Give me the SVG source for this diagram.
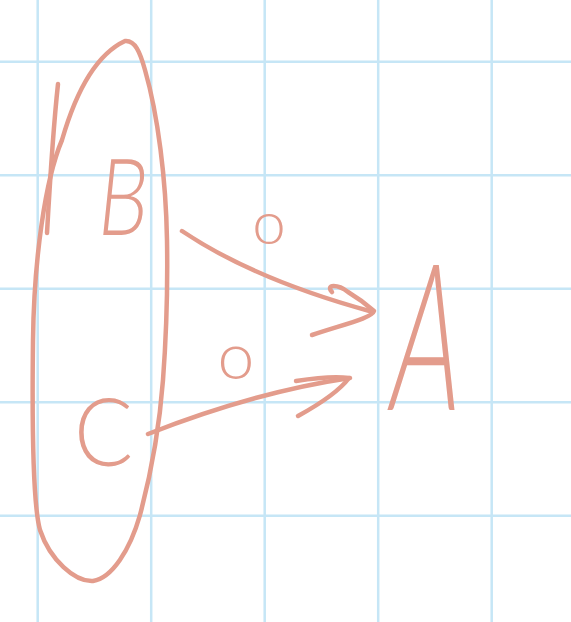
<svg xmlns="http://www.w3.org/2000/svg" width="571" height="622" viewBox="0 0 571 622">
<defs>
<style>
.ink{fill:none;stroke:#e39c8c;stroke-width:4.5;stroke-linecap:round;stroke-linejoin:round}
.lbl{fill:#e39c8c}
</style>
</defs>
<rect x="0" y="0" width="571" height="622" fill="#ffffff"/>
<g id="grid" stroke="#c6e6f6" stroke-width="2.5" fill="none">
<path d="M37.7 0 V622 M151.2 0 V622 M264.7 0 V622 M378.2 0 V622 M491.7 0 V622"/>
<path d="M0 61.7 H571 M0 175.2 H571 M0 288.7 H571 M0 402.2 H571 M0 515.7 H571"/>
</g>
<g id="group-loop">
<path class="ink" d="M125 41 C135 40 140 52 145 70 C158 115 166 180 167 240 C168 300 166 340 163 380 C160 420 152 470 140 515 C130 550 112 578 93 581 C75 582 50 560 40 530 C33 505 32 420 33 340 C34 260 45 180 62 140 C75 95 95 55 125 41 Z"/>
<path class="ink" d="M58 84 C53 130 50 180 47 233"/>
</g>
<g id="node-B">
<text class="lbl" x="0" y="0" font-size="107" font-family="Lato, Roboto, Liberation Sans, sans-serif" font-weight="300" transform="translate(95,235) skewX(-6) scale(0.74,1)">B</text>
</g>
<g id="node-C">
<text class="lbl" x="0" y="0" font-size="94" font-family="Lato, Roboto, Liberation Sans, sans-serif" font-weight="300" transform="translate(74,466) scale(0.93,1)">C</text>
</g>
<g id="node-A">
<text class="lbl" x="0" y="0" font-size="205" font-family="Lato, Roboto, Liberation Sans, sans-serif" font-weight="300" transform="translate(386,410) skewX(-6) scale(0.52,1)">A</text>
</g>
<g id="label-o1">
<text class="lbl" x="269" y="244" text-anchor="middle" font-size="60" font-family="Lato, Roboto, Liberation Sans, sans-serif" font-weight="300">o</text>
</g>
<g id="label-o2">
<text class="lbl" x="236" y="379" text-anchor="middle" font-size="66" font-family="Lato, Roboto, Liberation Sans, sans-serif" font-weight="300">o</text>
</g>
<g id="connectors">
<path class="ink" d="M182 231 Q255 280 373 312"/>
<path class="ink" d="M332 292 C325 284 338 284 348 292 C358 298 366 304 374 311 C372 318 345 324 312 335"/>
<path class="ink" d="M148 434 Q255 392 350 378"/>
<path class="ink" d="M296 381 C315 378 335 376 349 378 C340 390 318 405 298 416"/>
</g>
</svg>
